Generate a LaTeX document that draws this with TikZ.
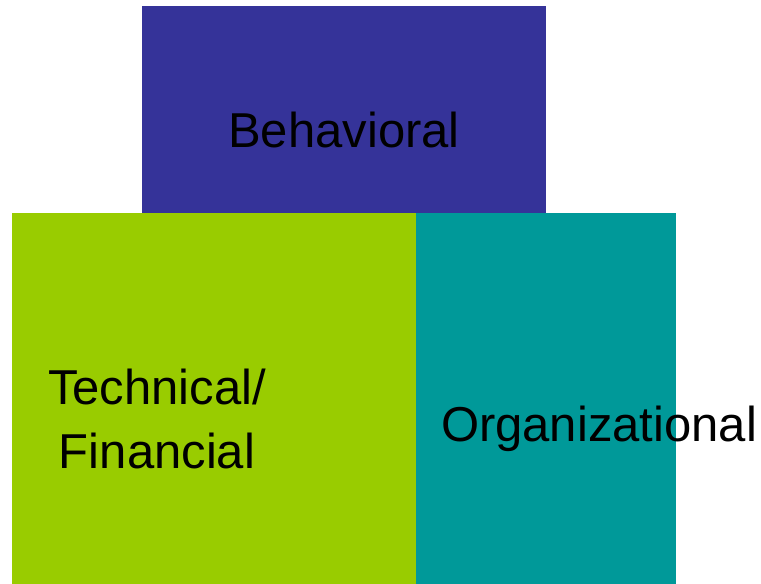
\documentclass[tikz,border=0pt]{standalone}
\usepackage{fontspec}
\setmainfont{Liberation Sans}
\definecolor{behavblue}{HTML}{353399}
\definecolor{techgreen}{HTML}{99CC00}
\definecolor{orgteal}{HTML}{009999}
\tikzset{
  area/.style={draw=none},
  lbl/.style={anchor=base, inner sep=0pt, align=center,
    font=\fontsize{49}{64}\selectfont, text=black}
}
\begin{document}
\begin{tikzpicture}[x=1pt,y=-1pt]
  \useasboundingbox (0,0) rectangle (761,584);
  % the three areas
  \fill[area, behavblue] (142,6) rectangle (546,213);
  \fill[area, techgreen] (12,213) rectangle (416,584);
  \fill[area, orgteal] (416,213) rectangle (676,584);
  % labels
  \node[lbl] (behav) at (344,147) {Behavioral};
  \node[lbl] (tech) at (157,468) {Technical/\\Financial};
  \node[lbl] (org) at (599,441) {Organizational};
\end{tikzpicture}
\end{document}
